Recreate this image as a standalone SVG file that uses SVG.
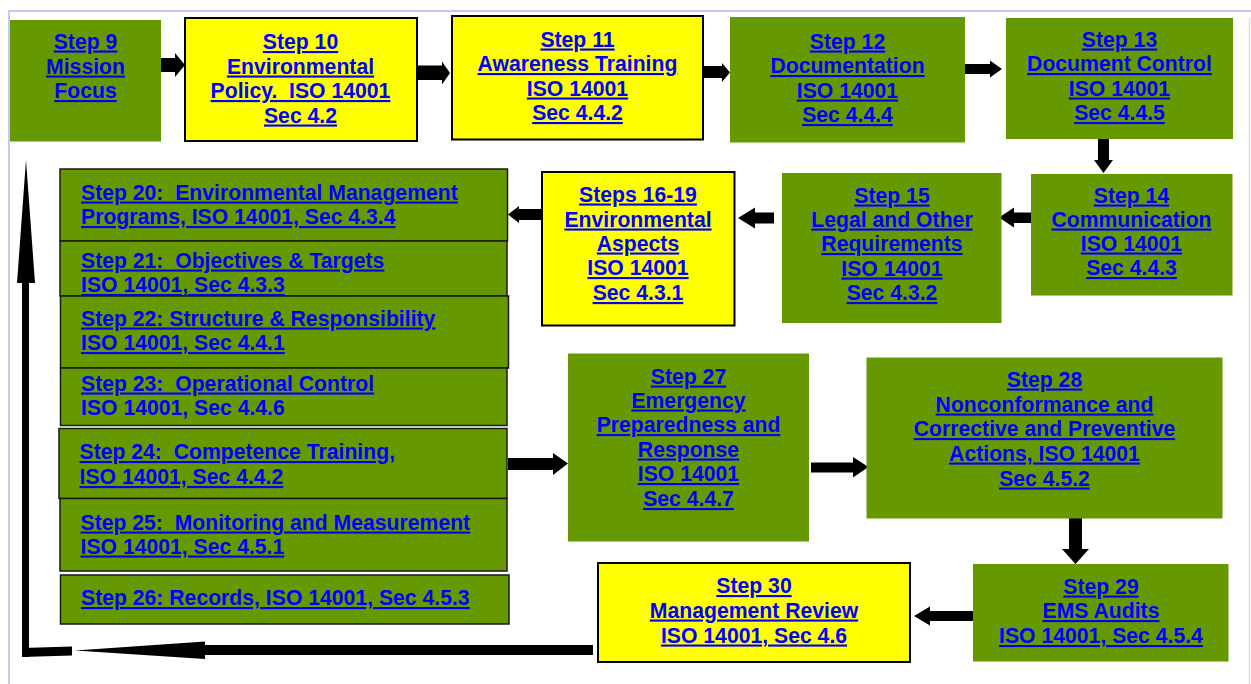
<svg xmlns="http://www.w3.org/2000/svg" width="1251" height="684" viewBox="0 0 1251 684">
<style>
.g{fill:#669900}
.y{fill:#ffff00;stroke:#000;stroke-width:2}
.s{fill:#669900;stroke:#1a1a1a;stroke-width:1.5}
.t{font-family:"Liberation Sans",Arial,sans-serif;font-weight:bold;font-size:21.2px;fill:#0000ff;text-decoration:underline;white-space:pre}
.c{text-anchor:middle}
.nu{text-decoration:none}
.a{fill:#000}
.frame{stroke:#c8c8f4;stroke-width:2;fill:none}
</style>
<rect width="1251" height="684" fill="#fff"/>
<g id="frame">
<path class="frame" d="M8 11 H1251 M9 11 V684"/>
<path d="M1249.5 18 V684" stroke="#dcdce6" stroke-width="1.5"/>
</g>
<g id="connectors">
<polygon class="a" points="151,58 175,58 175,53 185,65 175,77 175,72 151,72"/>
<polygon class="a" points="417,65.5 442,65.5 442,61.5 450,73 442,84.5 442,80 417,80"/>
<polygon class="a" points="699,66 722,66 722,63 730,72.5 722,82 722,78 699,78"/>
<polygon class="a" points="965,64 990,64 990,60.5 1002,69 990,77.5 990,74 965,74"/>
<polygon class="a" points="1098,137 1109,137 1109,160 1113,160 1103.5,173 1094,160 1098,160"/>
<polygon class="a" points="1035,212.5 1014,212.5 1014,207.5 999,217.5 1014,227.5 1014,223 1035,223"/>
<polygon class="a" points="774,212.5 755,212.5 755,207.5 738,218 755,228.5 755,223.5 774,223.5"/>
<polygon class="a" points="541,209 519,209 519,206 508,214.5 519,223 519,220 541,220"/>
<polygon class="a" points="508,458 553,458 553,453 568,463.5 553,475 553,470 508,470"/>
<polygon class="a" points="811,462.5 853,462.5 853,457 868.5,467 853,477.5 853,472.5 811,472.5"/>
<polygon class="a" points="1069,512 1082,512 1082,549 1089,549 1075.5,564 1062,549 1069,549"/>
<polygon class="a" points="973,611 930,611 930,606.5 914,616 930,625.5 930,621 973,621"/>
<polygon class="a" points="593,645 205,645 205,641.5 75,650.5 205,659 205,655 593,655"/>
<polygon class="a" points="22,648 72,646.5 72,655.5 22,657"/>
<polygon class="a" points="22,657 22,283 17,283 26,160 35,283 29,283 29,657"/>
</g>
<g id="step9">
<rect class="g" x="10" y="20" width="151" height="121.5"/>
<text class="t c" x="85.5" y="48.5">Step 9</text>
<text class="t c" x="85.5" y="73.5">Mission</text>
<text class="t c" x="85.5" y="98">Focus</text>
</g>
<g id="step10">
<rect class="y" x="185" y="18" width="232" height="123"/>
<text class="t c" x="300.5" y="49">Step 10</text>
<text class="t c" x="300.5" y="73.5">Environmental</text>
<text class="t c" x="300.5" y="98" xml:space="preserve">Policy.  ISO 14001</text>
<text class="t c" x="300.5" y="122.5">Sec 4.2</text>
</g>
<g id="step11">
<rect class="y" x="452" y="16" width="251" height="123.5"/>
<text class="t c" x="577.5" y="46.5">Step 11</text>
<text class="t c" x="577.5" y="71">Awareness Training</text>
<text class="t c" x="577.5" y="95.5">ISO 14001</text>
<text class="t c" x="577.5" y="120">Sec 4.4.2</text>
</g>
<g id="step12">
<rect class="g" x="730" y="17" width="235" height="125.5"/>
<text class="t c" x="847.5" y="48.5">Step 12</text>
<text class="t c" x="847.5" y="73">Documentation</text>
<text class="t c" x="847.5" y="97.5">ISO 14001</text>
<text class="t c" x="847.5" y="122">Sec 4.4.4</text>
</g>
<g id="step13">
<rect class="g" x="1006" y="18" width="227" height="121"/>
<text class="t c" x="1119.5" y="46.5">Step 13</text>
<text class="t c" x="1119.5" y="71">Document Control</text>
<text class="t c" x="1119.5" y="95.5">ISO 14001</text>
<text class="t c" x="1119.5" y="120">Sec 4.4.5</text>
</g>
<g id="step14">
<rect class="g" x="1031" y="174" width="201.5" height="121.5"/>
<text class="t c" x="1131.5" y="202.5">Step 14</text>
<text class="t c" x="1131.5" y="226.5">Communication</text>
<text class="t c" x="1131.5" y="250.5">ISO 14001</text>
<text class="t c" x="1131.5" y="275">Sec 4.4.3</text>
</g>
<g id="step15">
<rect class="g" x="782" y="173" width="219.5" height="150"/>
<text class="t c" x="892" y="202.5">Step 15</text>
<text class="t c" x="892" y="226.5">Legal and Other</text>
<text class="t c" x="892" y="251">Requirements</text>
<text class="t c" x="892" y="275.5">ISO 14001</text>
<text class="t c" x="892" y="300">Sec 4.3.2</text>
</g>
<g id="step16-19">
<rect class="y" x="542" y="172" width="192.5" height="153.5"/>
<text class="t c" x="638" y="201.5">Steps 16-19</text>
<text class="t c" x="638" y="226.5">Environmental</text>
<text class="t c" x="638" y="250.5">Aspects</text>
<text class="t c" x="638" y="275">ISO 14001</text>
<text class="t c" x="638" y="300">Sec 4.3.1</text>
</g>
<g id="step20">
<rect class="s" x="60" y="169" width="447.5" height="72"/>
<text class="t" x="81" y="199.5" xml:space="preserve">Step 20:  Environmental Management</text>
<text class="t" x="81" y="224">Programs, ISO 14001, Sec 4.3.4</text>
</g>
<g id="step21">
<rect class="s" x="60" y="241" width="447" height="55"/>
<text class="t" x="81" y="267.5" xml:space="preserve">Step 21:  Objectives &amp; Targets</text>
<text class="t" x="81" y="292">ISO 14001, Sec 4.3.3</text>
</g>
<g id="step22">
<rect class="s" x="60.5" y="296" width="448" height="72"/>
<text class="t" x="81" y="325.5">Step 22: Structure &amp; Responsibility</text>
<text class="t" x="81" y="350">ISO 14001, Sec 4.4.1</text>
</g>
<g id="step23">
<rect class="s" x="60.5" y="368" width="446.5" height="57.5"/>
<text class="t" x="81" y="390.5" xml:space="preserve">Step 23:  Operational Control</text>
<text class="t nu" x="81" y="414.5">ISO 14001, Sec 4.4.6</text>
</g>
<g id="step24">
<rect class="s" x="59" y="428.5" width="448" height="70" stroke-width="2.5" stroke="#000"/>
<text class="t" x="79.5" y="459" xml:space="preserve">Step 24:  Competence Training,</text>
<text class="t" x="79.5" y="484">ISO 14001, Sec 4.4.2</text>
</g>
<g id="step25">
<rect class="s" x="60" y="498.5" width="447" height="72.5"/>
<text class="t" x="80.5" y="529.5" xml:space="preserve">Step 25:  Monitoring and Measurement</text>
<text class="t" x="80.5" y="553.5">ISO 14001, Sec 4.5.1</text>
</g>
<g id="step26">
<rect class="s" x="60.5" y="575" width="448.5" height="49"/>
<text class="t" x="81" y="605">Step 26: Records, ISO 14001, Sec 4.5.3</text>
</g>
<g id="step27">
<rect class="g" x="568" y="353.5" width="241" height="188"/>
<text class="t c" x="688.5" y="383.5">Step 27</text>
<text class="t c" x="688.5" y="407.5">Emergency</text>
<text class="t c" x="688.5" y="432">Preparedness and</text>
<text class="t c" x="688.5" y="456.5">Response</text>
<text class="t c" x="688.5" y="481">ISO 14001</text>
<text class="t c" x="688.5" y="506">Sec 4.4.7</text>
</g>
<g id="step28">
<rect class="g" x="866.5" y="357.5" width="356" height="161"/>
<text class="t c" x="1044.5" y="386.5">Step 28</text>
<text class="t c" x="1044.5" y="411.5">Nonconformance and</text>
<text class="t c" x="1044.5" y="436">Corrective and Preventive</text>
<text class="t c" x="1044.5" y="460.5">Actions, ISO 14001</text>
<text class="t c" x="1044.5" y="485.5">Sec 4.5.2</text>
</g>
<g id="step29">
<rect class="g" x="973" y="564" width="255.5" height="97.5"/>
<text class="t c" x="1101" y="593.5">Step 29</text>
<text class="t c" x="1101" y="618">EMS Audits</text>
<text class="t c" x="1101" y="643">ISO 14001, Sec 4.5.4</text>
</g>
<g id="step30">
<rect class="y" x="598" y="563" width="312" height="99"/>
<text class="t c" x="754" y="593">Step 30</text>
<text class="t c" x="754" y="617.5">Management Review</text>
<text class="t c" x="754" y="642.5">ISO 14001, Sec 4.6</text>
</g>
</svg>
